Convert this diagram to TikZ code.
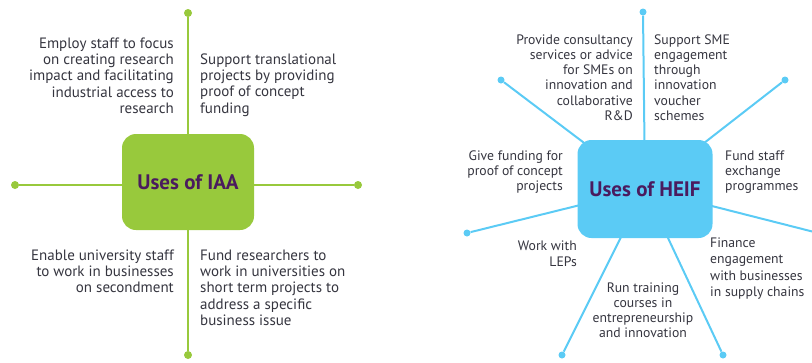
\documentclass[tikz,border=0pt]{standalone}
\usepackage{fontspec}
\setmainfont{PT Sans}
\usetikzlibrary{backgrounds}
\definecolor{iaagreen}{HTML}{98C93C}
\definecolor{heifblue}{HTML}{5BCBF5}
\definecolor{titlepurple}{HTML}{4A1B5E}
\definecolor{txtgray}{HTML}{35353F}
\begin{document}
\begin{tikzpicture}[x=1pt,y=-1pt,
  titlebox/.style={rounded corners=14pt, inner sep=0, text=titlepurple,
    font=\fontsize{21}{25}\selectfont\bfseries},
  iaabox/.style={titlebox, fill=iaagreen, minimum width=132pt, minimum height=96pt},
  heifbox/.style={titlebox, fill=heifblue, minimum width=135pt, minimum height=98pt},
  gdot/.style={circle, fill=iaagreen, inner sep=0, minimum size=8pt},
  bdot/.style={circle, fill=heifblue, inner sep=0, minimum size=7pt},
  gline/.style={draw=iaagreen, line width=2.2pt},
  bline/.style={draw=heifblue, line width=2pt},
  txt/.style={inner sep=0, text=txtgray, font=\fontsize{15}{16.4}\selectfont},
  htxt/.style={inner sep=0, text=txtgray, font=\fontsize{13.7}{15.2}\selectfont},
]
\useasboundingbox (0,0) rectangle (812,362);

% ---------- IAA ----------
\node[iaabox] (iaa) at (188,182) {Uses of IAA};
\node[gdot] (iaaN) at (188,13) {};
\node[gdot] (iaaS) at (188,355) {};
\node[gdot] (iaaW) at (15,185) {};
\node[gdot] (iaaE) at (358,185) {};
\begin{scope}[on background layer]
  \draw[gline] (iaaN) -- (iaaS);
  \draw[gline] (iaaW) -- (iaaE);
\end{scope}

\node[txt, align=right, anchor=north east] (iaaTL) at (174,36.5)
  {\strut Employ staff to focus\\on creating research\\impact and facilitating\\industrial access to\\research};
\node[txt, align=left, anchor=north west] (iaaTR) at (200,52.5)
  {\strut Support translational\\projects by providing\\proof of concept\\funding};
\node[txt, align=right, anchor=north east] (iaaBL) at (174,248.5)
  {\strut Enable university staff\\to work in businesses\\on secondment};
\node[txt, align=left, anchor=north west] (iaaBR) at (200,248.5)
  {\strut Fund researchers to\\work in universities on\\short term projects to\\address a specific\\business issue};

% ---------- HEIF ----------
\node[heifbox] (heif) at (645,189) {Uses of HEIF};
\node[bdot] (hN) at (643,12) {};
\node[bdot] (hNW) at (501,80) {};
\node[bdot] (hNE) at (785,80) {};
\node[bdot] (hW) at (467,233) {};
\node[bdot] (hSW) at (562,355) {};
\node[bdot] (hSE) at (723,355) {};
\coordinate (hE) at (826,235);
\begin{scope}[on background layer]
  \draw[bline] (heif.center) -- (hN);
  \draw[bline] (heif.center) -- (hNW);
  \draw[bline] (heif.center) -- (hNE);
  \draw[bline] (heif.center) -- (hW);
  \draw[bline] (heif.center) -- (hSW);
  \draw[bline] (heif.center) -- (hSE);
  \draw[bline] (heif.center) -- (hE);
\end{scope}

\node[htxt, align=right, anchor=north east] (hT1) at (633,33.4)
  {\strut Provide consultancy\\services or advice\\for SMEs on\\innovation and\\collaborative\\R\&D};
\node[htxt, align=left, anchor=north west] (hT2) at (654,33.4)
  {\strut Support SME\\engagement\\through\\innovation\\voucher\\schemes};
\node[htxt, align=right, anchor=north east] (hT3) at (563,149.4)
  {\strut Give funding for\\proof of concept\\projects};
\node[htxt, align=left, anchor=north west] (hT4) at (725,149.4)
  {\strut Fund staff\\exchange\\programmes};
\node[htxt, align=right, anchor=north east, font=\fontsize{13.7}{16}\selectfont] (hT5) at (577,238.8)
  {\strut Work with\\LEPs};
\node[htxt, align=center, anchor=north] (hT6) at (643,281.4)
  {\strut Run training\\courses in\\entrepreneurship\\and innovation};
\node[htxt, align=left, anchor=north west, font=\fontsize{13.7}{16.5}\selectfont] (hT7) at (710,235.5)
  {\strut Finance\\engagement\\with businesses\\in supply chains};
\end{tikzpicture}
\end{document}
